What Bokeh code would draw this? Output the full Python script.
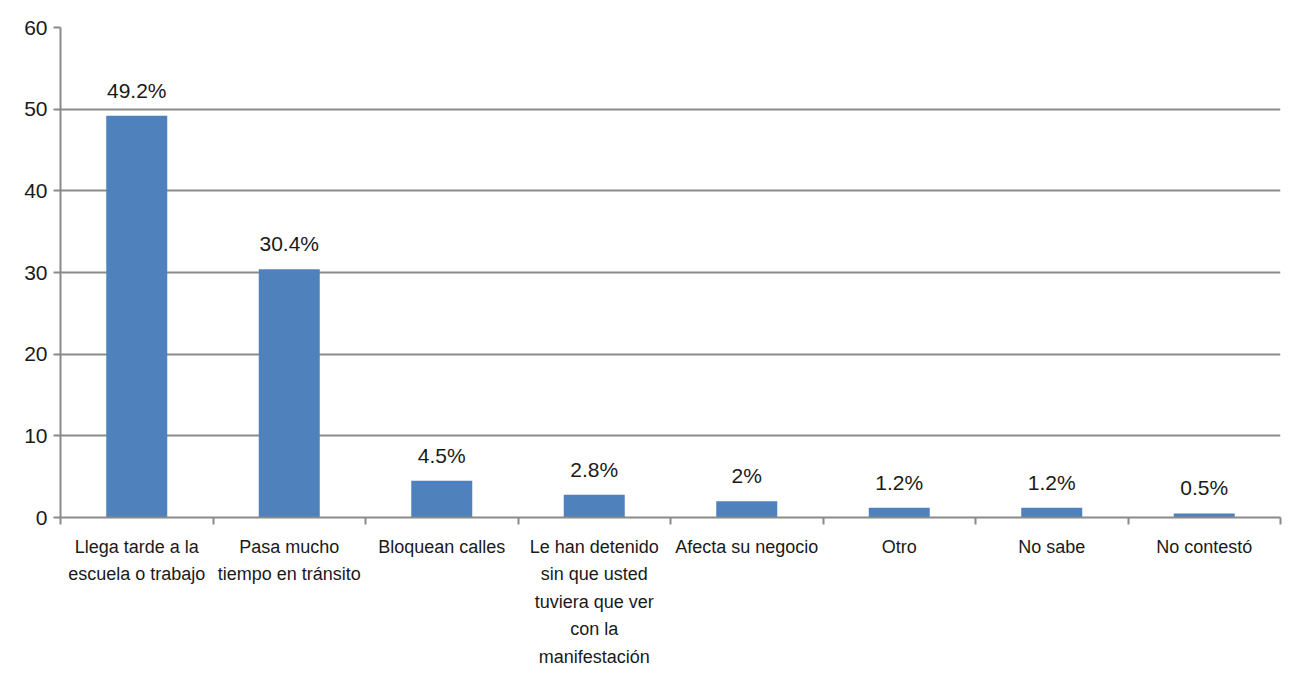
import numpy as np
from bokeh.plotting import figure
from bokeh.models import ColumnDataSource, Range1d, FixedTicker
from bokeh.core.properties import value
from bokeh.embed import file_html
from bokeh.resources import INLINE

categories = [
    "Llega tarde a la\nescuela o trabajo",
    "Pasa mucho\ntiempo en tránsito",
    "Bloquean calles",
    "Le han detenido\nsin que usted\ntuviera que ver\ncon la\nmanifestación",
    "Afecta su negocio",
    "Otro",
    "No sabe",
    "No contestó",
]
values = [49.2, 30.4, 4.5, 2.8, 2, 1.2, 1.2, 0.5]
labels = ["49.2%", "30.4%", "4.5%", "2.8%", "2%", "1.2%", "1.2%", "0.5%"]
y_ticks = [0, 10, 20, 30, 40, 50, 60]

FONT = "Liberation Sans"
GRAY = "#8a8a8a"
TXT = "#1a1a1a"

n = len(categories)
xc = np.arange(n) + 0.5
src = ColumnDataSource(dict(x=xc, top=values, lab=labels))

p = figure(width=1282, height=674, output_backend="svg", toolbar_location=None,
           x_range=Range1d(0, n), y_range=Range1d(0, 60),
           min_border_left=60, min_border_right=2, min_border_top=27, min_border_bottom=157)
p.outline_line_color = None
p.background_fill_color = "white"

p.vbar(x="x", top="top", width=0.4, source=src, fill_color="#4F81BD", line_color=None)
p.text(x="x", y="top", text="lab", source=src, text_align="center", text_baseline="bottom",
       y_offset=-14, text_font=value(FONT), text_font_size="21px", text_color=TXT)

# y axis
p.yaxis.ticker = FixedTicker(ticks=y_ticks)
p.yaxis.axis_line_color = GRAY
p.yaxis.axis_line_width = 2
p.yaxis.major_tick_line_color = GRAY
p.yaxis.major_tick_line_width = 2
p.yaxis.major_tick_out = 7
p.yaxis.major_tick_in = 0
p.yaxis.minor_tick_line_color = None
p.yaxis.major_label_standoff = 6
p.yaxis.major_label_text_font = FONT
p.yaxis.major_label_text_font_size = "21px"
p.yaxis.major_label_text_color = TXT

p.ygrid.grid_line_color = GRAY
p.ygrid.grid_line_width = 2
p.xgrid.grid_line_color = None

# x axis
p.xaxis.ticker = FixedTicker(ticks=list(xc), minor_ticks=list(range(n + 1)))
p.xaxis.major_label_overrides = {float(x): c for x, c in zip(xc, categories)}
p.xaxis.axis_line_color = GRAY
p.xaxis.axis_line_width = 2
p.xaxis.major_tick_line_color = None
p.xaxis.major_tick_out = 0
p.xaxis.major_tick_in = 0
p.xaxis.minor_tick_line_color = GRAY
p.xaxis.minor_tick_line_width = 2
p.xaxis.minor_tick_out = 7
p.xaxis.minor_tick_in = 0
p.xaxis.major_label_standoff = 12
p.xaxis.major_label_text_font = FONT
p.xaxis.major_label_text_font_size = "18px"
p.xaxis.major_label_text_color = TXT
p.xaxis.major_label_text_line_height = 1.38

open("out.html", "w").write(file_html(p, INLINE))
